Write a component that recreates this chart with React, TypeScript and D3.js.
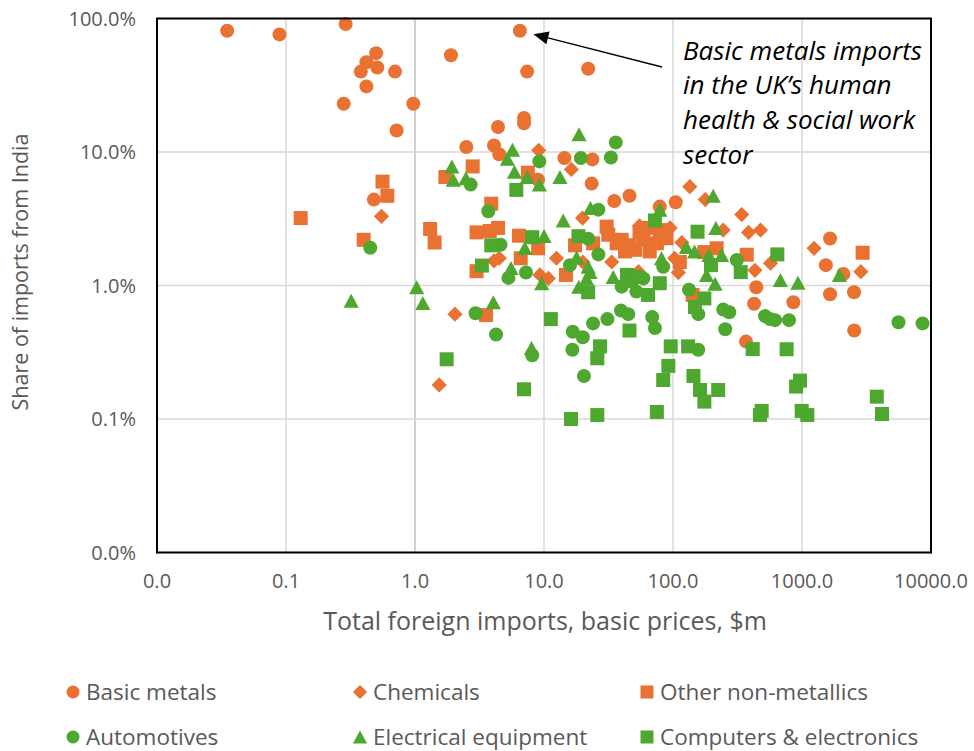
import React from 'react';
import * as d3 from 'd3';

const W = 974;
const H = 751;
const ORANGE = '#E97132';
const GREEN = '#4EA72E';
const TEXT = '#595959';
const FONT = "'Open Sans', 'Noto Sans', sans-serif";

const xTicks = [0.01, 0.1, 1, 10, 100, 1000, 10000];
const yTicks = [0.01, 0.1, 1, 10, 100];

// [total foreign imports $m, share of imports from India %]
const basicMetals: [number, number][] = [
  [0.035, 81], [0.089, 76], [0.29, 91], [0.5, 55], [0.42, 47], [0.51, 43], [0.38, 40], [0.7, 40],
  [0.42, 31], [0.28, 23], [0.97, 23], [0.72, 14.5], [0.48, 4.4], [6.5, 81], [1.9, 53], [7.4, 40],
  [22, 42], [4.4, 15.4], [7.0, 18], [7.0, 16.4], [2.5, 10.9], [4.1, 11.2], [4.5, 9.6], [14.4, 9.0],
  [23.7, 8.8], [9.0, 6.2], [23.4, 5.8], [35, 4.3], [46, 4.7], [79, 3.9], [105, 4.2], [1650, 2.25],
  [1530, 1.42], [2090, 1.22], [1650, 0.86], [2530, 0.89], [2540, 0.46], [442, 0.97], [425, 0.73],
  [857, 0.75], [368, 0.38],
];

const chemicals: [number, number][] = [
  [0.55, 3.3], [9.1, 10.3], [16.3, 7.4], [19.9, 3.2], [12.5, 1.6], [4.5, 1.6], [4.1, 1.53], [9.3, 1.2],
  [10.8, 1.13], [20, 1.5], [33.5, 1.5], [54, 1.27], [2.04, 0.61], [1.54, 0.18], [135, 5.5], [178, 4.4],
  [341, 3.4], [245, 2.6], [385, 2.5], [477, 2.6], [432, 1.3], [570, 1.47], [1240, 1.9], [2860, 1.27],
  [95, 2.7], [55, 2.8], [117, 2.1], [103, 1.6], [110, 1.25],
];

const otherNonMetallics: [number, number][] = [
  [0.56, 6.0], [0.61, 4.7], [0.13, 3.2], [0.4, 2.2], [2.8, 7.8], [1.72, 6.5], [7.5, 7.0], [3.9, 4.1],
  [1.31, 2.65], [1.42, 2.1], [3.0, 2.5], [3.8, 2.56], [4.4, 2.7], [6.4, 2.36], [9.0, 1.9], [6.6, 1.6],
  [3.0, 1.28], [3.55, 0.6], [17.4, 2.0], [14.8, 1.2], [24, 2.07], [30.6, 2.76], [31.5, 2.4], [40, 2.2],
  [46, 2.0], [55, 2.5], [66, 2.7], [79, 2.6], [59, 2.2], [75, 2.07], [51, 1.85], [66, 1.8], [42.5, 1.8],
  [36.6, 2.07], [89, 2.26], [175, 1.78], [218, 1.9], [373, 1.7], [2950, 1.76], [142, 0.85], [113, 1.5],
];

const automotives: [number, number][] = [
  [0.45, 1.92], [36, 11.8], [9.2, 8.5], [19.3, 9.0], [33, 9.1], [2.7, 5.7], [3.7, 3.6], [26.4, 3.7],
  [4.6, 2.02], [22, 2.24], [26.4, 1.71], [15.9, 1.42], [7.25, 1.25], [5.3, 1.14], [84, 1.38], [40, 0.98],
  [59, 1.13], [48, 1.07], [52, 0.9], [2.95, 0.62], [4.25, 0.43], [8.1, 0.3], [16.7, 0.45], [20, 0.41],
  [16.6, 0.33], [24, 0.52], [31, 0.56], [20.4, 0.21], [39.5, 0.65], [45, 0.61], [69, 0.58], [72.5, 0.48],
  [133, 0.93], [157, 0.61], [245, 0.66], [273, 0.63], [254, 0.47], [517, 0.59], [618, 0.55], [793, 0.55],
  [565, 0.56], [157, 0.33], [5600, 0.53], [8600, 0.52], [312, 1.55],
];

const electricalEquipment: [number, number][] = [
  [0.32, 0.77], [1.03, 0.97], [1.15, 0.74], [4.05, 0.75], [8.0, 0.34], [18.7, 13.6], [5.7, 10.4],
  [5.2, 8.9], [1.93, 7.8], [1.98, 6.2], [2.48, 6.35], [5.9, 7.1], [7.4, 6.5], [9.2, 5.7], [13.3, 6.5],
  [22.9, 3.8], [79, 3.7], [14.1, 3.07], [10, 2.35], [7.1, 1.91], [17.9, 1.62], [5.55, 1.35], [9.6, 1.04],
  [22, 1.38], [22.7, 1.26], [21.4, 1.13], [18.6, 0.98], [34.4, 1.16], [81.5, 1.6], [205, 4.7], [215, 2.7],
  [127, 1.94], [147, 1.8], [190, 1.69], [238, 1.69], [182, 1.2], [212, 1.03], [680, 1.1], [930, 1.05],
  [1950, 1.2],
];

const computersElectronics: [number, number][] = [
  [6.1, 5.2], [72.5, 3.07], [3.9, 2.0], [8.1, 2.3], [18.5, 2.34], [3.3, 1.41], [22, 0.89], [44, 1.2],
  [52, 1.16], [64, 0.85], [79, 1.04], [1.76, 0.28], [7.0, 0.167], [11.3, 0.56], [27.2, 0.35], [25.9, 0.285],
  [46, 0.46], [96, 0.35], [92, 0.25], [84, 0.196], [16.2, 0.1], [25.9, 0.107], [75, 0.113], [131, 0.35],
  [144, 0.21], [162, 0.165], [224, 0.165], [175, 0.135], [415, 0.334], [760, 0.333], [965, 0.194],
  [900, 0.175], [3800, 0.147], [4170, 0.109], [487, 0.115], [472, 0.107], [995, 0.115], [1100, 0.107],
  [155, 2.53], [644, 1.71], [197, 1.42], [335, 1.26], [175, 0.8], [148, 0.69],
];

const annotationLines = ['Basic metals imports', 'in the UK\u2019s human', 'health & social work', 'sector'];
const annotationTarget: [number, number] = [6.5, 81];

type Shape = 'circle' | 'diamond' | 'square' | 'triangle';

const series: { name: string; color: string; shape: Shape; data: [number, number][] }[] = [
  { name: 'Basic metals', color: ORANGE, shape: 'circle', data: basicMetals },
  { name: 'Chemicals', color: ORANGE, shape: 'diamond', data: chemicals },
  { name: 'Other non-metallics', color: ORANGE, shape: 'square', data: otherNonMetallics },
  { name: 'Automotives', color: GREEN, shape: 'circle', data: automotives },
  { name: 'Electrical equipment', color: GREEN, shape: 'triangle', data: electricalEquipment },
  { name: 'Computers & electronics', color: GREEN, shape: 'square', data: computersElectronics },
];

function shapePath(shape: Shape, s: number): string {
  const p = d3.path();
  const h = s / 2;
  if (shape === 'circle') {
    p.arc(0, 0, h, 0, Math.PI * 2);
  } else if (shape === 'square') {
    p.rect(-h, -h, s, s);
  } else if (shape === 'diamond') {
    const d = h + 0.6;
    p.moveTo(0, -d); p.lineTo(d, 0); p.lineTo(0, d); p.lineTo(-d, 0); p.closePath();
  } else {
    const w = h + 0.6;
    p.moveTo(0, -h); p.lineTo(w, h); p.lineTo(-w, h); p.closePath();
  }
  return p.toString();
}

export default function App() {
  const left = 157, right = 931, top = 18.5, bottom = 552.5;
  const x = d3.scaleLog().domain([0.01, 10000]).range([left, right]);
  const y = d3.scaleLog().domain([0.01, 100]).range([bottom, top]);
  const fx = d3.format('.1f');

  const legendCols = [73, 360, 647];
  const legendRows = [692, 737];

  const [tx, ty] = [x(annotationTarget[0]), y(annotationTarget[1])];
  const arrowStart: [number, number] = [662, 67];
  const ang = Math.atan2(ty - arrowStart[1], tx - arrowStart[0]);
  const tipX = tx - 14 * Math.cos(ang);
  const tipY = ty - 14 * Math.sin(ang);
  const headLen = 15, headW = 6.5;
  const bx = tipX - headLen * Math.cos(ang), by = tipY - headLen * Math.sin(ang);
  const px = -Math.sin(ang), py = Math.cos(ang);

  return (
    <svg width={W} height={H} style={{ position: 'absolute', left: 0, top: 0, background: '#fff' }}
      fontFamily={FONT}>
      <rect x={0} y={0} width={W} height={H} fill="#fff" />
      {xTicks.map((t) => (
        <line key={'gx' + t} x1={x(t)} x2={x(t)} y1={top} y2={bottom}
          stroke={t === 1 ? '#bfbfbf' : '#d9d9d9'} strokeWidth={1.5} />
      ))}
      {yTicks.map((t) => (
        <line key={'gy' + t} x1={left} x2={right} y1={y(t)} y2={y(t)} stroke="#d9d9d9" strokeWidth={1.5} />
      ))}
      {series.map((s) => (
        <g key={s.name} fill={s.color}>
          {s.data.map((d, i) => (
            <path key={i} d={shapePath(s.shape, 14)} transform={`translate(${x(d[0])},${y(d[1])})`} />
          ))}
        </g>
      ))}
      <rect x={left} y={top} width={right - left} height={bottom - top} fill="none" stroke="#000" strokeWidth={2} />
      {yTicks.map((t) => (
        <text key={'yl' + t} x={136} y={y(t)} dy="0.36em" textAnchor="end" fontSize={20} fill={TEXT}>
          {fx(t) + '%'}
        </text>
      ))}
      {xTicks.map((t) => (
        <text key={'xl' + t} x={x(t)} y={581} dy="0.36em" textAnchor="middle" fontSize={20} fill={TEXT}>
          {fx(t)}
        </text>
      ))}
      <text x={545} y={621} dy="0.36em" textAnchor="middle" fontSize={25} fill={TEXT}>
        Total foreign imports, basic prices, $m
      </text>
      <text transform="translate(20,272) rotate(-90)" dy="0.36em" textAnchor="middle" fontSize={21.5} fill={TEXT}>
        Share of imports from India
      </text>
      {annotationLines.map((l, i) => (
        <text key={l} x={683} y={59.5 + i * 34.7} fontSize={26} fontStyle="italic" fill="#000">
          {l}
        </text>
      ))}
      <line x1={arrowStart[0]} y1={arrowStart[1]} x2={bx} y2={by} stroke="#000" strokeWidth={1.5} />
      <path d={`M${tipX},${tipY}L${bx + px * headW},${by + py * headW}L${bx - px * headW},${by - py * headW}Z`} fill="#000" />
      {series.map((s, i) => {
        const cx = legendCols[i % 3];
        const cy = legendRows[Math.floor(i / 3)];
        return (
          <g key={'lg' + s.name}>
            <path d={shapePath(s.shape, 13)} transform={`translate(${cx},${cy})`} fill={s.color} />
            <text x={cx + 13} y={cy} dy="0.36em" fontSize={22.5} fill={TEXT}>{s.name}</text>
          </g>
        );
      })}
    </svg>
  );
}
